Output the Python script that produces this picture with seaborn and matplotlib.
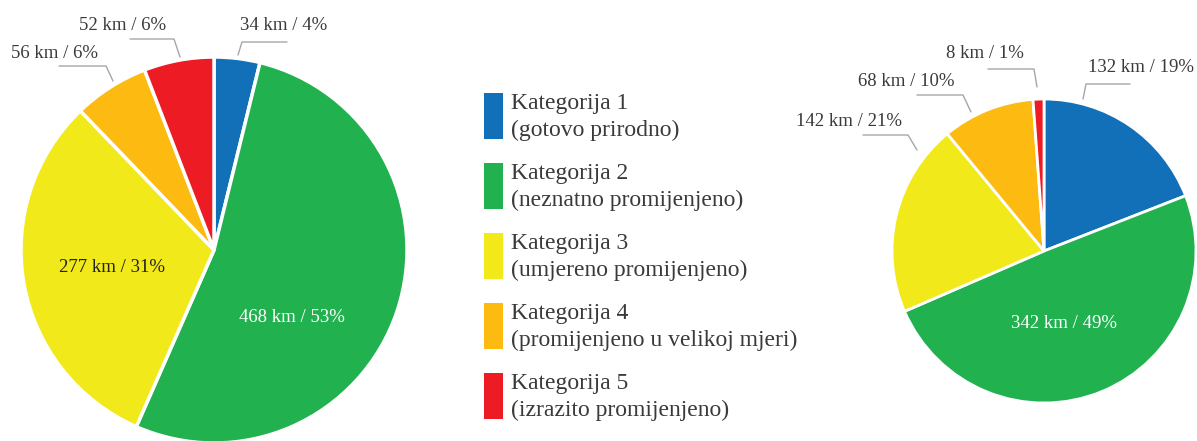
import matplotlib
matplotlib.use("Agg")
import matplotlib.pyplot as plt
from matplotlib.patches import Rectangle
import seaborn as sns

# podaci
categories = ["Kategorija 1", "Kategorija 2", "Kategorija 3", "Kategorija 4", "Kategorija 5"]
descriptions = ["(gotovo prirodno)", "(neznatno promijenjeno)", "(umjereno promijenjeno)",
                "(promijenjeno u velikoj mjeri)", "(izrazito promijenjeno)"]
left_km = [34, 468, 277, 56, 52]
left_pct = [4, 53, 31, 6, 6]
right_km = [132, 342, 142, 68, 8]
right_pct = [19, 49, 21, 10, 1]

sns.set_theme(style="white")
plt.rcParams['font.family'] = ['Liberation Serif', 'DejaVu Serif']
colors = sns.color_palette(["#1170b8", "#21b14f", "#f2e91a", "#fdbb12", "#ed1c24"])

W, H = 1197, 441
fig = plt.figure(figsize=(W / 100, H / 100), dpi=100)
ax = fig.add_axes([0, 0, 1, 1])


def Y(y):
    return H - y


def lbl(km, pct):
    return f"{km} km / {pct}%"


# pite
ax.pie(left_km, colors=colors, startangle=90, counterclock=False,
       center=(214, Y(250)), radius=193, frame=True,
       wedgeprops=dict(edgecolor="white", linewidth=2.5))
ax.pie(right_km, colors=colors, startangle=90, counterclock=False,
       center=(1044, Y(251)), radius=152, frame=True,
       wedgeprops=dict(edgecolor="white", linewidth=2))

fs = 13.5
# unutarnje oznake
ax.text(112, Y(268), lbl(left_km[2], left_pct[2]), ha="center", va="center",
        fontsize=fs, color="#222222")
ax.text(292, Y(317), lbl(left_km[1], left_pct[1]), ha="center", va="center",
        fontsize=fs, color="white")
ax.text(1064, Y(323), lbl(right_km[1], right_pct[1]), ha="center", va="center",
        fontsize=fs, color="white")

# vanjske oznake s linijama: (start, koljeno, kraj linije, tekst x, tekst y, poravnanje, tekst)
outside = [
    ((238, 55), (242, 42), 287, 240, 25, "left", lbl(left_km[0], left_pct[0])),
    ((180, 57), (174, 39), 130, 166, 25, "right", lbl(left_km[4], left_pct[4])),
    ((113, 81), (106, 66), 59, 98, 54, "right", lbl(left_km[3], left_pct[3])),
    ((1083, 99), (1086, 84), 1130, 1088, 68, "left", lbl(right_km[0], right_pct[0])),
    ((1037, 87), (1034, 69), 988, 1024, 54, "right", lbl(right_km[4], right_pct[4])),
    ((971, 112), (963, 95), 917, 955, 82, "right", lbl(right_km[3], right_pct[3])),
    ((917, 150), (908, 135), 863, 902, 121, "right", lbl(right_km[2], right_pct[2])),
]
for (s, e, xend, tx, ty, ha, t) in outside:
    ax.plot([s[0], e[0], xend], [Y(s[1]), Y(e[1]), Y(e[1])], color="#a6a6a6", lw=1)
    ax.text(tx, Y(ty), t, ha=ha, va="center", fontsize=fs, color="#3a3a3a")

# legenda
for i, (cat, desc) in enumerate(zip(categories, descriptions)):
    top = 93 + 70 * i
    ax.add_patch(Rectangle((484, Y(top + 46)), 19, 46, facecolor=colors[i], edgecolor="none"))
    ax.text(511, Y(top + 10), cat, ha="left", va="center", fontsize=17, color="#3a3a3a")
    ax.text(511, Y(top + 37), desc, ha="left", va="center", fontsize=17, color="#3a3a3a")

ax.set_xlim(0, W)
ax.set_ylim(0, H)
ax.set_aspect("auto")
ax.axis("off")

fig.savefig("out.png", dpi=100, facecolor="white")
